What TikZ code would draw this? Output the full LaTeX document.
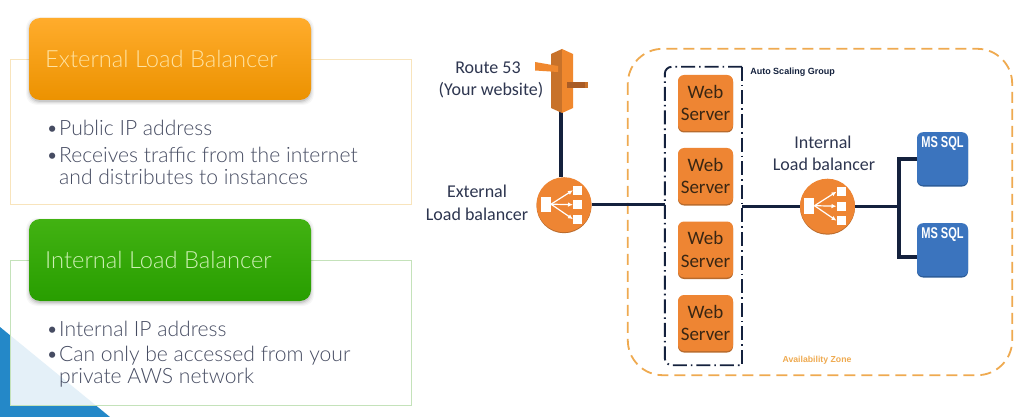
\documentclass[tikz,border=0pt]{standalone}
\usepackage{fontspec}
\usepackage{graphicx}
\setmainfont{Carlito}
\newfontfamily\lato{Lato Light}
\newfontfamily\arialf{Liberation Sans}
\usetikzlibrary{arrows.meta}
\definecolor{navy}{HTML}{14213D}
\definecolor{awsorange}{HTML}{EE8533}
\definecolor{awsedge}{HTML}{B86A2C}
\definecolor{azone}{HTML}{EFAA50}
\definecolor{sqlblue}{HTML}{3B74BE}
\definecolor{sqledge}{HTML}{2A5A96}
\definecolor{bodytext}{HTML}{464C62}
\definecolor{lbltext}{HTML}{2E3650}
\definecolor{panelyellow}{HTML}{F8E4BC}
\definecolor{panelgreen}{HTML}{C4E2BA}
\definecolor{routedark}{HTML}{C8722A}
\definecolor{routelight}{HTML}{F0882E}
\definecolor{flagdark}{HTML}{A95C26}
\tikzset{
  x=1pt,y=-1pt,
  panel/.style={line width=.8pt},
  header/.style={rounded corners=11pt,minimum width=282pt,minimum height=82pt,inner sep=0pt},
  headtext/.style={font=\lato\fontsize{23.7}{26}\selectfont,anchor=west,inner sep=0pt},
  bodyline/.style={font=\lato\fontsize{21.1}{24}\selectfont,text=bodytext,anchor=west,inner sep=0pt},
  webbox/.style={rounded corners=6pt,fill=awsorange,minimum width=55pt,minimum height=56pt,inner sep=0pt,align=center,
    font=\fontsize{19}{22.5}\selectfont,text=black!70!brown},
  sqlbox/.style={rounded corners=6pt,fill=sqlblue,minimum width=51pt,minimum height=53pt,inner sep=0pt},
  sqltext/.style={font=\arialf\bfseries\fontsize{13}{14}\selectfont,text=white,inner sep=0pt},
  lbl/.style={font=\fontsize{18}{20}\selectfont,text=lbltext,inner sep=0pt},
  wire/.style={draw=navy,line width=3.4pt},
  lbcircle/.style={circle,fill=awsorange,minimum size=55pt,inner sep=0pt},
  groupline/.style={draw=navy,line width=1.9pt,dash pattern=on 14pt off 4pt on 1.6pt off 4pt},
  lbicon/.pic={
    \fill[white] (-23.5,-8) rectangle (-13.5,7.5);
    \foreach \yy in {-14.5,0,14.5}{
      \fill[white] (9,\yy-4.7) rectangle (18,\yy+4.7);
      \draw[white,line width=1.2pt,-{Latex[length=5pt,width=4.5pt]}] (-13,-.5) -- (9,\yy);
    }
  }
}
\newcommand{\softshadow}[4]{%
  \foreach \g/\o in {3/.03,2/.04,1/.06,0/.09}{
    \fill[black,opacity=\o,rounded corners=11pt] (#1-\g,#2+2-\g) rectangle (#3+\g,#4+2+\g);
  }}
\newcommand{\bulletbox}{\makebox[13pt][l]{•}}
\begin{document}
\begin{tikzpicture}
\useasboundingbox (0,0) rectangle (1028,417);
\fill[white] (0,0) rectangle (1028,417);
% corner decoration
\fill[fill={rgb,255:red,36;green,136;blue,200}] (0,327) -- (110,417) -- (0,417) -- cycle;
% panels
\fill[white,opacity=.88] (10,260) rectangle (411,405);
\draw[panel,draw=panelyellow] (10,59) rectangle (411,204);
\draw[panel,draw=panelgreen] (10,260) rectangle (411,405);
% headers
\softshadow{29}{18}{311}{100}
\node[header,top color={rgb,255:red,255;green,172;blue,44},bottom color={rgb,255:red,236;green,146;blue,0}] (exth) at (170,59) {};
\softshadow{29}{219}{311}{301}
\node[header,top color={rgb,255:red,66;green,178;blue,18},bottom color={rgb,255:red,40;green,158;blue,0}] (inth) at (170,260) {};
\node[headtext,text={rgb,255:red,255;green,226;blue,160}] (extt) at (45,58.5) {External Load Balancer};
\node[headtext,text={rgb,255:red,205;green,240;blue,180}] (intt) at (45,259.5) {Internal Load Balancer};
% body text
\node[bodyline] (b1) at (46,128) {\bulletbox Public IP address};
\node[bodyline] (b2) at (46,155) {\bulletbox Receives traffic from the internet};
\node[bodyline] (b3) at (59,177) {and distributes to instances};
\node[bodyline] (b4) at (46,329) {\bulletbox Internal IP address};
\node[bodyline] (b5) at (46,356) {\bulletbox Can only be accessed from your};
\node[bodyline] (b6) at (59,378) {private AWS network};
% availability zone
\node[minimum width=384pt,minimum height=326pt,inner sep=0pt] (az) at (820,212) {};
\draw[draw=azone,line width=1.8pt,rounded corners=35pt,dash pattern=on 11pt off 6pt] (az.north west) rectangle (az.south east);
\node[font=\arialf\bfseries\fontsize{8.7}{10}\selectfont,inner sep=0pt,text=azone] (azl) at (817,360) {Availability Zone};
% auto scaling group
\node[minimum width=77pt,minimum height=298pt,inner sep=0pt] (asg) at (703.5,216) {};
\draw[groupline,rounded corners=7pt] (asg.north east) -- (asg.north west) -- (asg.south west) -- (asg.south east);
\draw[groupline] (asg.north east) -- (asg.south east);
\node[font=\arialf\bfseries\fontsize{9}{10}\selectfont,inner sep=0pt,text=navy] (asgl) at (792.5,72) {Auto Scaling Group};
% nodes
\fill[awsedge] (564,205.7) circle (27.5);
\fill[awsedge] (827.5,207.2) circle (27.5);
\node[lbcircle] (elb) at (564,204.7) {};
\node[lbcircle] (ilb) at (827.5,206.2) {};
\node[minimum width=22pt,minimum height=60pt,inner sep=0pt] (r53) at (561,81) {};
\foreach \n/\yy in {w1/103,w2/176,w3/249.5,w4/323}{
  \fill[awsedge,rounded corners=6pt] (678,\yy-27) rectangle (733,\yy+29.5);
  \node[webbox] (\n) at (705.5,\yy) {Web\\Server};
}
\foreach \n/\yy in {s1/159.5,s2/250.5}{
  \fill[sqledge,rounded corners=6pt] (917,\yy-26) rectangle (968,\yy+27);
  \node[sqlbox] (\n) at (942.5,\yy-.8) {};
}
\node[sqltext] (s1t) at (942.5,144) {\scalebox{.85}[1.2]{MS SQL}};
\node[sqltext] (s2t) at (942.5,234.5) {\scalebox{.85}[1.2]{MS SQL}};
% connectors
\coordinate (bus) at (ilb.east -| 899,0);
\coordinate (bus1) at (899,159);
\coordinate (bus2) at (899,257);
\draw[wire] (r53.south) -- (r53.south |- elb.north);
\draw[wire] (elb.east) -- (asg.west |- elb.east);
\draw[wire] (asg.east |- ilb.west) -- (ilb.west);
\draw[wire] (ilb.east) -- (bus);
\draw[wire,line cap=rect] (bus1) -- (bus2);
\draw[wire] (bus1) -- (s1.west |- bus1);
\draw[wire] (bus2) -- (s2.west |- bus2);
% load balancer icons
\pic at (elb) {lbicon};
\pic at (ilb) {lbicon};
% route 53 icon
\fill[routedark] (551,54) -- (562,49) -- (562,113) -- (551,108) -- cycle;
\fill[routelight] (562,49) -- (573,54) -- (573,108) -- (562,113) -- cycle;
\fill[routelight] (535,62) -- (558,66) -- (558,72) -- (535,70.5) -- cycle;
\fill[flagdark] (567,82) -- (585,82) -- (585,88) -- (567,88) -- cycle;
\fill[routedark] (585,82) -- (588,82) -- (588,88) -- (585,88) -- cycle;
% labels
\node[lbl] (rl1) at (488,68) {Route 53};
\node[lbl] (rl2) at (491,90) {(Your website)};
\node[lbl] (el1) at (477,191) {External};
\node[lbl] (el2) at (477,214) {Load balancer};
\node[lbl] (il1) at (823,142) {Internal};
\node[lbl] (il2) at (824,164) {Load balancer};
\end{tikzpicture}
\end{document}
